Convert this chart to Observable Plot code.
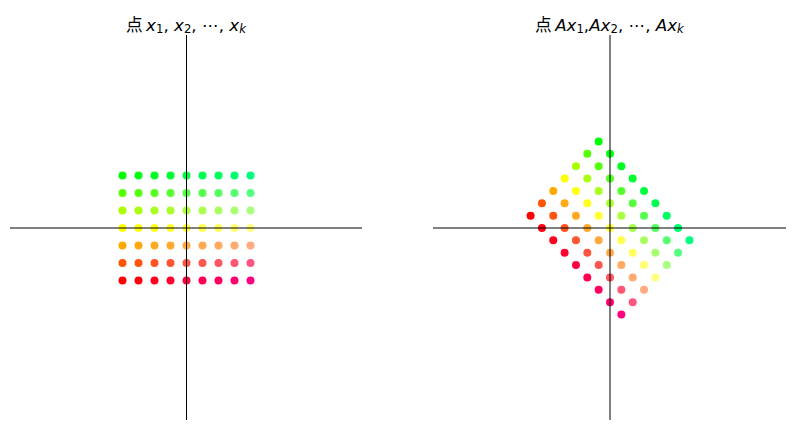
<!DOCTYPE html>
<html><head><meta charset="utf-8">
<script src="https://cdn.jsdelivr.net/npm/d3@7"></script>
<script src="https://cdn.jsdelivr.net/npm/@observablehq/plot@0.6"></script>
<style>
body{margin:0;background:#fff;width:794px;height:430px;position:relative;overflow:hidden}
.panel{position:absolute}
.title{position:absolute;font-family:"DejaVu Sans","Noto Sans CJK SC",sans-serif;font-size:16.7px;line-height:20px;white-space:nowrap;text-align:center;color:#000}
.title i{font-family:"DejaVu Sans";font-style:oblique}
.title .sub{font-size:0.7em;position:relative;top:0.2em}
</style></head><body>
<script>
// grid coordinates
const xs = [-4, -3, -2, -1, 0, 1, 2, 3, 4];
const ys = [3, 2, 1, 0, -1, -2, -3];
// linear map A (rotation by -45 degrees)
const A = [[0.7071, 0.7071], [-0.7071, 0.7071]];
const limits = [-11, 11];
const titles = [
  '<span style="font-family:\'Noto Sans CJK SC\'">点</span>&thinsp;<i>x</i><span class="sub">1</span>, <i>x</i><span class="sub">2</span>, ⋯, <i>x</i><span class="sub"><i>k</i></span>',
  '<span style="font-family:\'Noto Sans CJK SC\'">点</span>&thinsp;<i>Ax</i><span class="sub">1</span>,<i>Ax</i><span class="sub">2</span>, ⋯, <i>Ax</i><span class="sub"><i>k</i></span>'
];

const xmin = d3.min(xs), xmax = d3.max(xs), ymax = d3.max(ys);
function colorOf(x, y) {
  const r = y <= 0 ? 255 : Math.round(255 * (ymax - y) / ymax);
  const g = y >= 0 ? 255 : Math.round(255 * (ymax + y) / ymax);
  const b = Math.round(128 * (x - xmin) / (xmax - xmin));
  return `rgb(${r},${g},${b})`;
}
const pts = [];
for (const y of ys) for (const x of xs) pts.push({x, y, c: colorOf(x, y)});
const tpts = pts.map(p => ({x: A[0][0]*p.x + A[0][1]*p.y, y: A[1][0]*p.x + A[1][1]*p.y, c: p.c}));

function panel(data, left, width, title) {
  const top = 35, height = 385;
  const div = document.createElement("div");
  div.className = "panel";
  div.style.left = left + "px"; div.style.top = top + "px";
  const chart = Plot.plot({
    width, height,
    marginLeft: 0, marginRight: 0, marginTop: 0, marginBottom: 0,
    x: {domain: limits, axis: null},
    y: {domain: limits, axis: null},
    marks: [
      Plot.dot(data, {x: "x", y: "y", r: 4, fill: d => d.c, stroke: "none"}),
      Plot.ruleY([0], {stroke: "#000", strokeWidth: 1}),
      Plot.ruleX([0], {stroke: "#000", strokeWidth: 1})
    ]
  });
  div.appendChild(chart);
  document.body.appendChild(div);
  const t = document.createElement("div");
  t.className = "title";
  t.style.left = left + "px"; t.style.width = width + "px"; t.style.top = "14px";
  t.innerHTML = title;
  document.body.appendChild(t);
}
panel(pts, 10, 352, titles[0]);
panel(tpts, 433, 353, titles[1]);
</script>
</body></html>
